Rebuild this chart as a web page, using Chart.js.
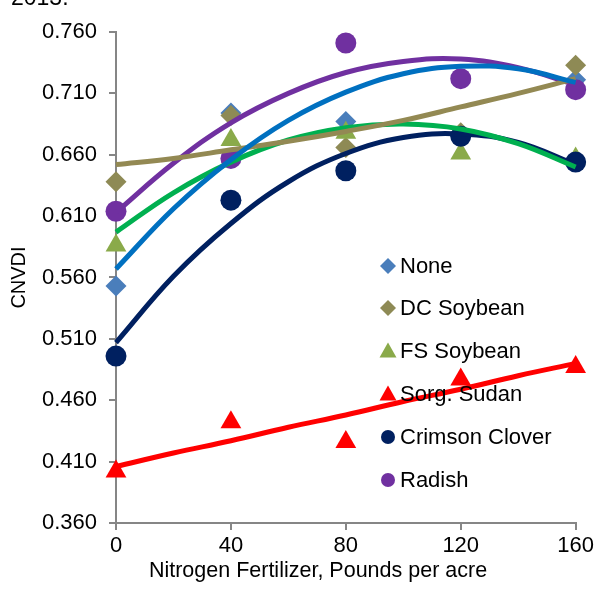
<!DOCTYPE html>
<html>
<head>
<meta charset="utf-8">
<script src="https://cdn.jsdelivr.net/npm/chart.js@4.4.1/dist/chart.umd.min.js"></script>
<style>
  html, body { margin: 0; padding: 0; background: #fff; }
  #wrap { position: relative; width: 597px; height: 589px; overflow: hidden; }
</style>
</head>
<body>
<div id="wrap"><canvas id="cnvdi-chart" width="597" height="589"></canvas></div>
<script>
// Nitrogen rates (x) and observed CNVDI for each cover crop
const nitrogen = [0, 40, 80, 120, 160];
const noneVals    = [0.553, 0.694, 0.687, 0.676, 0.721];
const dcSoyVals   = [0.638, 0.692, 0.666, 0.678, 0.733];
const fsSoyVals   = [0.586, 0.672, 0.678, 0.661, 0.657];
const sorgVals    = [0.402, 0.442, 0.426, 0.477, 0.487];
const crimsonVals = [0.496, 0.623, 0.647, 0.675, 0.654];
const radishVals  = [0.614, 0.657, 0.751, 0.722, 0.713];

// Trend lines, every 20 lb
const trendX = [0, 20, 40, 60, 80, 100, 120, 140, 160];
const noneTrend    = [0.567, 0.616, 0.656, 0.688, 0.711, 0.726, 0.732, 0.730, 0.719];
const dcSoyTrend   = [0.652, 0.657, 0.664, 0.671, 0.679, 0.688, 0.699, 0.710, 0.722];
const fsSoyTrend   = [0.597, 0.629, 0.654, 0.672, 0.682, 0.685, 0.681, 0.669, 0.650];
const sorgTrend    = [0.406, 0.417, 0.427, 0.438, 0.448, 0.459, 0.469, 0.480, 0.490];
const crimsonTrend = [0.507, 0.561, 0.604, 0.638, 0.661, 0.674, 0.677, 0.670, 0.652];
const radishTrend  = [0.613, 0.653, 0.686, 0.710, 0.727, 0.736, 0.738, 0.731, 0.717];

const seriesNames = ['None', 'DC Soybean', 'FS Soybean', 'Sorg. Sudan', 'Crimson Clover', 'Radish'];
const xTicks = [0, 40, 80, 120, 160];
const xTitle = 'Nitrogen Fertilizer, Pounds per acre';

const FONT = '"Liberation Sans", Arial, sans-serif';
const AXIS_GREY = '#868686';

function pts(xs, ys) {
    return xs.map((x, i) => ({ x: x, y: ys[i] }));
}

function markerSet(label, vals, color, style, radius, order) {
    return {
        label: label,
        data: pts(nitrogen, vals),
        showLine: false,
        pointStyle: style,
        pointRadius: radius,
        pointHoverRadius: radius,
        pointBackgroundColor: color,
        pointBorderColor: color,
        pointBorderWidth: 0,
        backgroundColor: color,
        borderColor: color,
        order: order,
        clip: false
    };
}

function trendSet(vals, color) {
    return {
        label: 'trend',
        data: pts(trendX, vals),
        showLine: true,
        pointRadius: 0,
        borderColor: color,
        borderWidth: 5,
        tension: 0.4,
        fill: false,
        order: 0,
        clip: false
    };
}

const markers = [
    markerSet(seriesNames[0], noneVals,    '#4A7EBB', 'rectRot', 10.5, 6),
    markerSet(seriesNames[1], dcSoyVals,   '#8E8A55', 'rectRot', 10.5, 5),
    markerSet(seriesNames[2], fsSoyVals,   '#8AAA4A', 'triangle', 12, 4),
    markerSet(seriesNames[3], sorgVals,    '#FF0000', 'triangle', 12, 3),
    markerSet(seriesNames[4], crimsonVals, '#002060', 'circle', 10.5, 2),
    markerSet(seriesNames[5], radishVals,  '#7030A0', 'circle', 10.5, 1)
];

const trends = [
    trendSet(noneTrend,    '#0070C0'),
    trendSet(dcSoyTrend,   '#938953'),
    trendSet(fsSoyTrend,   '#00B050'),
    trendSet(sorgTrend,    '#FF0000'),
    trendSet(crimsonTrend, '#002060'),
    trendSet(radishTrend,  '#7030A0')
];

// Legend sits inside the plot, markers only; x title and caption drawn here too
const insideLegend = {
    id: 'insideLegend',
    afterDraw(chart) {
        const ctx = chart.ctx;
        const x0 = 388, textX = 400;
        const ys = [266, 308, 351, 394, 437, 480];
        ctx.save();
        ctx.font = '22px ' + FONT;
        ctx.textBaseline = 'middle';
        ctx.textAlign = 'left';
        markers.forEach((ds, i) => {
            const y = ys[i];
            ctx.fillStyle = ds.backgroundColor;
            ctx.beginPath();
            if (ds.pointStyle === 'rectRot') {
                const r = 8;
                ctx.moveTo(x0, y - r); ctx.lineTo(x0 + r, y); ctx.lineTo(x0, y + r); ctx.lineTo(x0 - r, y);
            } else if (ds.pointStyle === 'triangle') {
                const r = 8.5;
                ctx.moveTo(x0, y - r); ctx.lineTo(x0 + r, y + r * 0.75); ctx.lineTo(x0 - r, y + r * 0.75);
            } else {
                ctx.arc(x0, y, 7, 0, Math.PI * 2);
            }
            ctx.closePath();
            ctx.fill();
            ctx.fillStyle = '#000';
            ctx.fillText(ds.label, textX, y + 1);
        });

        ctx.textBaseline = 'alphabetic';
        ctx.font = '21.5px ' + FONT;
        ctx.textAlign = 'center';
        ctx.fillText(xTitle, 318, 577);

        // cut-off caption at the very top
        ctx.font = '23px ' + FONT;
        ctx.textAlign = 'left';
        ctx.fillText('2013.', 11, 5);
        ctx.restore();
    }
};

document.addEventListener('DOMContentLoaded', () => {
    const ctx = document.getElementById('cnvdi-chart').getContext('2d');
    new Chart(ctx, {
        type: 'scatter',
        data: { datasets: markers.concat(trends) },
        options: {
            responsive: false,
            animation: false,
            layout: { padding: { top: 32, right: 21, left: 0, bottom: 0 } },
            plugins: {
                legend: { display: false },
                tooltip: { enabled: false }
            },
            scales: {
                x: {
                    type: 'linear',
                    min: 0,
                    max: 160,
                    afterBuildTicks: (scale) => { scale.ticks = xTicks.map(v => ({ value: v })); },
                    afterFit: (scale) => { scale.height = 66; },
                    grid: {
                        drawOnChartArea: false,
                        drawTicks: true,
                        tickLength: 7,
                        color: AXIS_GREY,
                        lineWidth: 2
                    },
                    border: { display: true, color: AXIS_GREY, width: 2 },
                    ticks: {
                        color: '#000',
                        font: { family: FONT, size: 22 },
                        padding: 3,
                        maxRotation: 0
                    },
                    title: { display: false }
                },
                y: {
                    type: 'linear',
                    min: 0.36,
                    max: 0.76,
                    afterFit: (scale) => { scale.width = 116; },
                    grid: {
                        drawOnChartArea: false,
                        drawTicks: true,
                        tickLength: 7,
                        color: AXIS_GREY,
                        lineWidth: 2
                    },
                    border: { display: true, color: AXIS_GREY, width: 2 },
                    ticks: {
                        stepSize: 0.05,
                        color: '#000',
                        font: { family: FONT, size: 22 },
                        padding: 12,
                        callback: (v) => v.toFixed(3)
                    },
                    title: {
                        display: true,
                        text: 'CNVDI',
                        color: '#000',
                        font: { family: FONT, size: 20 },
                        padding: { top: 7, bottom: 0 }
                    }
                }
            }
        },
        plugins: [insideLegend]
    });
});
</script>
</body>
</html>
